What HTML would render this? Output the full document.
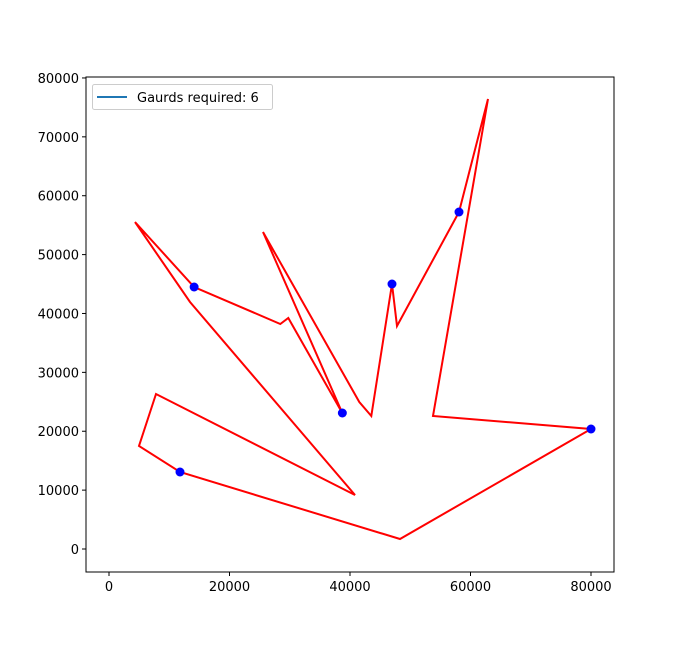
<!DOCTYPE html>
<html><head><meta charset="utf-8"><style>
html,body{margin:0;padding:0;background:#fff;}
svg text{font-family:"DejaVu Sans","Liberation Sans",sans-serif;font-size:13px;fill:#000;}
</style></head><body>
<svg id="chart" width="683" height="643">
<rect x="0" y="0" width="683" height="643" fill="#fff"/>
<g id="plot"></g>
</svg>
<script>
const polyX=[4322,14129,28424,29754,38730,25560,41550,43540,46970,47800,58090,62900,53780,80000,48300,11785,4980,7800,40830,13445];
const polyY=[55537,44497,38213,39232,23098,53838,24966,22588,45007,37874,57235,76426,22588,20380,1698,13077,17493,26325,9171,41950];
const guardX=[14129,38730,46970,58090,80000,11785];
const guardY=[44497,23098,45007,57235,20380,13077];
const xTicks=[0,20000,40000,60000,80000];
const yTicks=[0,10000,20000,30000,40000,50000,60000,70000,80000];
const X0=86,X1=614,Y0=572,Y1=77;
const xmin=-3817,xmax=83817,ymin=-3906,ymax=80163;
const sx=v=>X0+(v-xmin)/(xmax-xmin)*(X1-X0);
const sy=v=>Y0-(v-ymin)/(ymax-ymin)*(Y0-Y1);
const NS="http://www.w3.org/2000/svg";
const g=document.getElementById('plot');
function mk(t,a){const e=document.createElementNS(NS,t);for(const k in a)e.setAttribute(k,a[k]);g.appendChild(e);return e;}
let pts=polyX.map((x,i)=>sx(x).toFixed(1)+','+sy(polyY[i]).toFixed(1));
pts.push(pts[0]);
const pl=mk('polyline',{points:pts.join(' '),fill:'none',stroke:'#ff0000','stroke-width':2,'stroke-linejoin':'miter'});


guardX.forEach((x,i)=>{
 const c=mk('circle',{cx:sx(x),cy:sy(guardY[i]),r:4.5,fill:'#0000ff'});
 
 
});
const fr=mk('rect',{x:X0,y:Y1,width:X1-X0,height:Y0-Y1,fill:'none',stroke:'#000','stroke-width':1});


xTicks.forEach(v=>{
 const x=sx(v);
 const l=mk('line',{x1:x,x2:x,y1:Y0,y2:Y0+4,stroke:'#000'});
 
 
 const t=mk('text',{x:x,y:Y0+19,'text-anchor':'middle'});t.textContent=v;
 
 
});
yTicks.forEach(v=>{
 const y=sy(v);
 const l=mk('line',{x1:X0-4,x2:X0,y1:y,y2:y,stroke:'#000'});
 
 
 const t=mk('text',{x:X0-7,y:y+5,'text-anchor':'end'});t.textContent=v;
 
 
});
const lb=mk('rect',{x:92.5,y:84.5,width:180,height:25,rx:2,fill:'#fff',stroke:'#ccc'});


const ll=mk('line',{x1:97,x2:127,y1:97,y2:97,stroke:'#1f77b4','stroke-width':2});


const lt=mk('text',{x:137,y:102});lt.textContent='Gaurds required: 6';


</script>
</body></html>
